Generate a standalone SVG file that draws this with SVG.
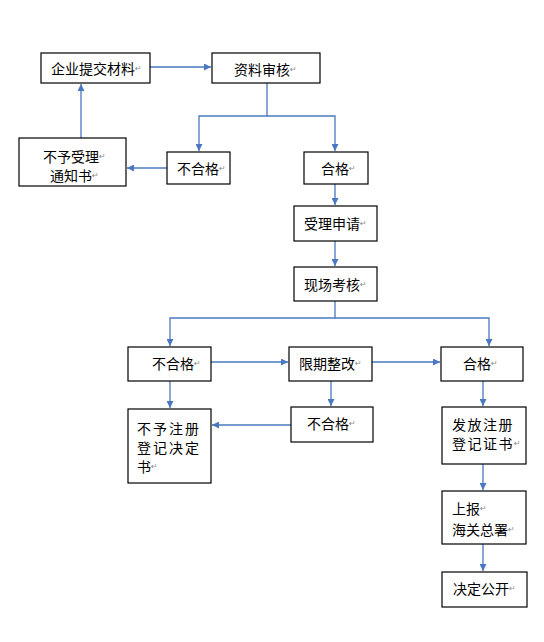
<svg xmlns="http://www.w3.org/2000/svg" width="544" height="642" viewBox="0 0 544 642">
<style>
.box{fill:#fff;stroke:#000;stroke-width:1.2}
.t{font-family:"Noto Sans CJK SC","Noto Sans",sans-serif;font-size:14px;fill:#000;dominant-baseline:central}
.p{font-family:"DejaVu Sans",sans-serif;font-size:8px;fill:#888}
.c{fill:none;stroke:#4A78C0;stroke-width:1.3}
</style>
<defs>
<marker id="ah" viewBox="0 0 10 10" refX="10" refY="5" markerWidth="7" markerHeight="7" orient="auto" markerUnits="userSpaceOnUse">
<path d="M0,0 L10,5 L0,10 Z" fill="#4A78C0"/>
</marker>
</defs>
<rect width="544" height="642" fill="#fff"/>
<g id="connectors">
<path class="c" d="M150,67 H211" marker-end="url(#ah)"/>
<path class="c" d="M267,83 V116 H199 V151" marker-end="url(#ah)"/>
<path class="c" d="M267,116 H335 V151" marker-end="url(#ah)"/>
<path class="c" d="M167,168 H127" marker-end="url(#ah)"/>
<path class="c" d="M81,138 V84" marker-end="url(#ah)"/>
<path class="c" d="M335,184 V205" marker-end="url(#ah)"/>
<path class="c" d="M335,241 V266" marker-end="url(#ah)"/>
<path class="c" d="M335,301 V318 H170 V346" marker-end="url(#ah)"/>
<path class="c" d="M335,318 H489 V346" marker-end="url(#ah)"/>
<path class="c" d="M211,362 H288" marker-end="url(#ah)"/>
<path class="c" d="M372,362 H440" marker-end="url(#ah)"/>
<path class="c" d="M170,381 V408" marker-end="url(#ah)"/>
<path class="c" d="M331,381 V406" marker-end="url(#ah)"/>
<path class="c" d="M291,425 H212" marker-end="url(#ah)"/>
<path class="c" d="M483,381 V406" marker-end="url(#ah)"/>
<path class="c" d="M483,464 V490" marker-end="url(#ah)"/>
<path class="c" d="M483,544 V571" marker-end="url(#ah)"/>
</g>
<g id="n1"><rect class="box" x="41" y="53" width="109" height="30"/><text class="t" x="51" y="68">企业提交材料<tspan class="p">↵</tspan></text></g>
<g id="n2"><rect class="box" x="212" y="53" width="108" height="30"/><text class="t" x="234" y="69">资料审核<tspan class="p">↵</tspan></text></g>
<g id="n3"><rect class="box" x="19" y="138" width="107" height="48"/><text class="t" x="43" y="156">不予受理<tspan class="p">↵</tspan></text><text class="t" x="50" y="175">通知书<tspan class="p">↵</tspan></text></g>
<g id="n4"><rect class="box" x="167" y="152" width="63" height="32"/><text class="t" x="177" y="168">不合格<tspan class="p">↵</tspan></text></g>
<g id="n5"><rect class="box" x="304" y="152" width="64" height="32"/><text class="t" x="321" y="168">合格<tspan class="p">↵</tspan></text></g>
<g id="n6"><rect class="box" x="294" y="206" width="83" height="35"/><text class="t" x="304" y="223">受理申请<tspan class="p">↵</tspan></text></g>
<g id="n7"><rect class="box" x="294" y="267" width="83" height="34"/><text class="t" x="304" y="284">现场考核<tspan class="p">↵</tspan></text></g>
<g id="n8"><rect class="box" x="128" y="347" width="83" height="34"/><text class="t" x="152" y="363">不合格<tspan class="p">↵</tspan></text></g>
<g id="n9"><rect class="box" x="289" y="347" width="83" height="34"/><text class="t" x="299" y="363">限期整改<tspan class="p">↵</tspan></text></g>
<g id="n10"><rect class="box" x="441" y="347" width="82" height="34"/><text class="t" x="463" y="363">合格<tspan class="p">↵</tspan></text></g>
<g id="n11"><rect class="box" x="128" y="409" width="83" height="74"/><text class="t" x="137" y="428" letter-spacing="2">不予注册</text><text class="t" x="137" y="447" letter-spacing="2">登记决定</text><text class="t" x="137" y="466">书<tspan class="p">↵</tspan></text></g>
<g id="n12"><rect class="box" x="291" y="407" width="82" height="35"/><text class="t" x="307" y="423">不合格<tspan class="p">↵</tspan></text></g>
<g id="n13"><rect class="box" x="442" y="407" width="84" height="57"/><text class="t" x="452" y="424" letter-spacing="1.5">发放注册</text><text class="t" x="452" y="443" letter-spacing="1.5">登记证书<tspan class="p" letter-spacing="0">↵</tspan></text></g>
<g id="n14"><rect class="box" x="442" y="491" width="84" height="53"/><text class="t" x="452" y="508">上报<tspan class="p">↵</tspan></text><text class="t" x="452" y="529">海关总署<tspan class="p">↵</tspan></text></g>
<g id="n15"><rect class="box" x="442" y="572" width="85" height="35"/><text class="t" x="453" y="588">决定公开<tspan class="p">↵</tspan></text></g>
</svg>
